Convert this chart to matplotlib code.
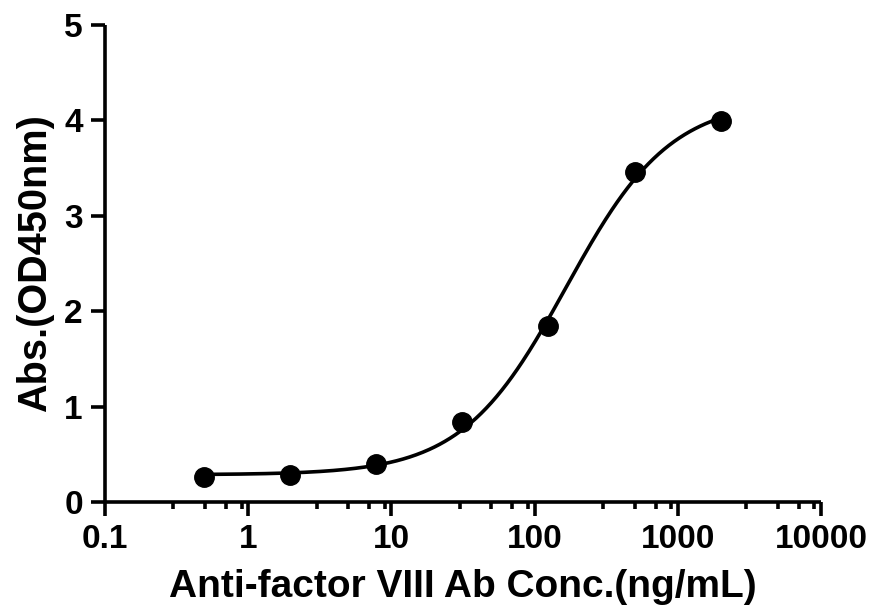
import numpy as np
import matplotlib
matplotlib.use("Agg")
import matplotlib.pyplot as plt
from matplotlib.ticker import FixedLocator, NullFormatter

# Data
conc = [0.488, 1.95, 7.8, 31.25, 125, 500, 2000]
absorb = [0.26, 0.28, 0.40, 0.84, 1.84, 3.46, 3.99]
xticks = [0.1, 1, 10, 100, 1000, 10000]
xticklabels = ["0.1", "1", "10", "100", "1000", "10000"]
yticks = [0, 1, 2, 3, 4, 5]

x = np.array(conc, dtype=float)
y = np.array(absorb, dtype=float)


def f4pl(p, xx):
    bottom, top, logec50, hill = p
    return bottom + (top - bottom) / (1 + 10 ** ((logec50 - np.log10(xx)) * hill))


# Levenberg-Marquardt fit of 4PL
p = np.array([0.25, 4.3, np.log10(200), 1.0])
lam = 1e-2
for _ in range(500):
    r = y - f4pl(p, x)
    J = np.zeros((len(x), 4))
    for i in range(4):
        dp = np.zeros(4)
        dp[i] = 1e-6
        J[:, i] = (f4pl(p + dp, x) - f4pl(p - dp, x)) / 2e-6
    A = J.T @ J
    g = J.T @ r
    step = np.linalg.solve(A + lam * np.diag(np.diag(A)), g)
    pn = p + step
    if np.sum((y - f4pl(pn, x)) ** 2) < np.sum(r ** 2):
        p = pn
        lam *= 0.5
    else:
        lam *= 4

xf = np.logspace(np.log10(x.min()), np.log10(x.max()), 400)
yf = f4pl(p, xf)

plt.rcParams['font.family'] = ['Liberation Sans', 'DejaVu Sans']
plt.rcParams['font.weight'] = 'bold'

fig = plt.figure(figsize=(8.71, 6.13), dpi=100)
ax = fig.add_axes([105 / 871, 1 - 502 / 613, (821 - 105) / 871, (502 - 25) / 613])

ax.plot(xf, yf, color='black', lw=2.6, zorder=2)
ax.plot(x, y, 'o', color='black', ms=14, zorder=3, clip_on=False)

ax.set_xscale('log')
ax.set_xlim(0.1, 10000)
ax.set_ylim(0, 5)

ax.spines['top'].set_visible(False)
ax.spines['right'].set_visible(False)
for s in ['left', 'bottom']:
    ax.spines[s].set_linewidth(2.6)
    ax.spines[s].set_capstyle('butt')

ax.xaxis.set_major_locator(FixedLocator(xticks))
ax.set_xticklabels(xticklabels)
minors = [d * m for d in [0.1, 1, 10, 100, 1000] for m in [3, 5, 7, 9]]
ax.xaxis.set_minor_locator(FixedLocator(minors))
ax.xaxis.set_minor_formatter(NullFormatter())
ax.set_yticks(yticks)

ax.tick_params(axis='both', which='major', direction='out', length=10, width=2.6,
               labelsize=24, pad=6)
ax.tick_params(axis='x', which='minor', direction='out', length=5, width=2.6)

for lbl in ax.get_xticklabels() + ax.get_yticklabels():
    lbl.set_fontweight('bold')

ax.set_xlabel('Anti-factor VIII Ab Conc.(ng/mL)', fontsize=28, fontweight='bold', labelpad=10)
ax.set_ylabel('Abs.(OD450nm)', fontsize=28.5, fontweight='bold', labelpad=7)

fig.savefig('out.png', dpi=100)
